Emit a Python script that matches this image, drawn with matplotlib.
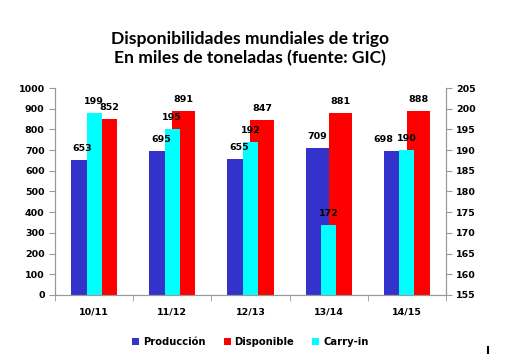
import matplotlib.pyplot as plt
import numpy as np
from matplotlib.lines import Line2D

campanas = ['10/11', '11/12', '12/13', '13/14', '14/15']
produccion = [653, 695, 655, 709, 698]
disponible = [852, 891, 847, 881, 888]
carry_in = [199, 195, 192, 172, 190]

azul = '#3333CC'
rojo = '#FF0000'
cian = '#00FFFF'
gris = '#999999'

fig = plt.figure(figsize=(5.11, 3.54), dpi=100)
ax = fig.add_axes([0.1076, 0.1667, 0.7652, 0.5847])
ax2 = ax.twinx()

x = np.arange(len(campanas))
w = 0.295
b1 = ax.bar(x - w / 2, produccion, w, color=azul, label='Producción')
b2 = ax.bar(x + w / 2, disponible, w, color=rojo, label='Disponible')
b3 = ax2.bar(x, np.array(carry_in) - 155, 0.19, bottom=155, color=cian, label='Carry-in')

# etiquetas en el eje secundario para que queden encima de las barras cian
lbl = dict(fontsize=6.8, fontweight='bold', ha='center', va='bottom',
           textcoords='offset points', zorder=10)
desp_prod = [0, 0, 0, 0, -8.5]
desp_disp = [3, 0, 0, 0, 0]
for xi, v, d in zip(x - w / 2, produccion, desp_prod):
    ax2.annotate(str(v), (xi, v), xycoords=ax.transData, xytext=(d, 5), **lbl)
for xi, v, d in zip(x + w / 2, disponible, desp_disp):
    ax2.annotate(str(v), (xi, v), xycoords=ax.transData, xytext=(d, 5), **lbl)
for xi, v in zip(x, carry_in):
    ax2.annotate(str(v), (xi, v), xytext=(0, 5), **lbl)

ax.set_xlim(-0.5, len(campanas) - 0.5)
ax.set_ylim(0, 1000)
ax.set_yticks(range(0, 1001, 100))
ax2.set_ylim(155, 205)
ax2.set_yticks(range(155, 206, 5))

ax.set_xticks(x)
ax.set_xticklabels(campanas, fontsize=6.8, fontweight='bold')
ax.set_xticks(np.arange(-0.5, len(campanas), 1), minor=True)
ax.tick_params(axis='x', which='major', length=0, pad=9)
ax.tick_params(axis='x', which='minor', length=4, color=gris, direction='out')
ax.tick_params(axis='y', length=4, color=gris, labelsize=6.8)
ax2.tick_params(axis='y', length=4, color=gris, labelsize=6.8)
for t in ax.get_yticklabels() + ax2.get_yticklabels():
    t.set_fontweight('bold')

for a in (ax, ax2):
    a.spines['top'].set_visible(False)
    for s in ('left', 'right', 'bottom'):
        a.spines[s].set_color(gris)

fig.text(0.49, 0.862, 'Disponibilidades mundiales de trigo\nEn miles de toneladas (fuente: GIC)',
         ha='center', va='center', fontsize=12.6, fontweight='bold',
         family='Lato', linespacing=1.25)

fig.legend([b1, b2, b3], ['Producción', 'Disponible', 'Carry-in'],
           loc='center', bbox_to_anchor=(0.49, 0.034), ncol=3, frameon=False,
           prop={'size': 7.2, 'weight': 'bold'}, handlelength=0.7, handleheight=0.7,
           handletextpad=0.4, columnspacing=1.8)

fig.add_artist(Line2D([0.955, 0.955], [0.0, 0.02], color='black', lw=1.5,
                      transform=fig.transFigure))

fig.savefig('out.png', dpi=100)
